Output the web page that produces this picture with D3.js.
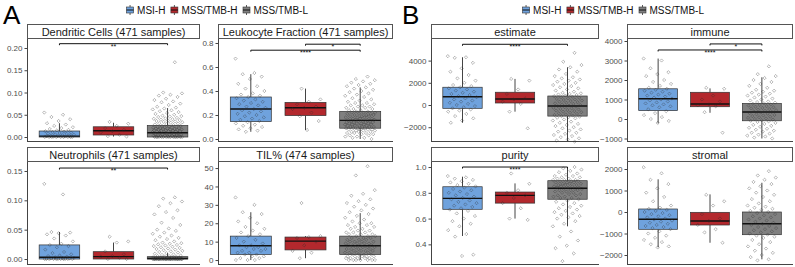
<!DOCTYPE html>
<html>
<head>
<meta charset="utf-8">
<script src="https://cdn.jsdelivr.net/npm/d3@7"></script>
<style>
body { margin: 0; background: #fff; }
text { font-family: "Liberation Sans", Arial, sans-serif; }
</style>
</head>
<body>
<script>
var W = 795, H = 267;

var groups = ["MSI-H", "MSS/TMB-H", "MSS/TMB-L"];
var groupColors = ["#6fa2dd", "#b3282d", "#808080"];

// box stats per group: [low whisker, q1, median, q3, high whisker]
// ---- panel A
var dcTitle = "Dendritic Cells (471 samples)";
var dcDomain = [-0.0112, 0.2202];
var dcTicks = [0, 0.05, 0.10, 0.15, 0.20];
var dcBox = [[0, 0, 0.002, 0.0135, 0.031], [0.001, 0.0045, 0.014, 0.023, 0.032], [0, 0, 0.0097, 0.026, 0.065]];
var dcPts = [
  [0.055, 0.05, 0.045, 0.04, 0.036, 0.031, 0.028, 0.025, 0.022, 0.02, 0.018, 0.016, 0.015, 0.013, 0.012, 0.011, 0.01, 0.009, 0.008, 0.007, 0.006, 0.005, 0.004, 0.003, 0.003, 0.002, 0.002, 0.001, 0.001, 0, 0, 0, 0, 0, 0, 0, 0, 0],
  [0.034, 0.03, 0.025, 0.02, 0.016, 0.013, 0.01, 0.005, 0.002, 0.001],
  [0.168, 0.100, 0.098, 0.095, 0.093, 0.090, 0.086, 0.083, 0.080, 0.078, 0.075, 0.072, 0.068, 0.066, 0.064, 0.062, 0.06, 0.058, 0.056, 0.054, 0.052, 0.05, 0.048, 0.047, 0.046, 0.045, 0.043, 0.042, 0.041, 0.04, 0.039, 0.038, 0.037, 0.036, 0.035, 0.034, 0.033, 0.032, 0.031, 0.03, 0.029, 0.028, 0.027, 0.025, 0.025, 0.024, 0.023, 0.023, 0.022, 0.021, 0.021, 0.02, 0.02, 0.019, 0.019, 0.018, 0.018, 0.017, 0.017, 0.016, 0.016, 0.015, 0.015, 0.014, 0.014, 0.013, 0.013, 0.012, 0.012, 0.011, 0.011, 0.01, 0.01, 0.009, 0.008, 0.007, 0.006, 0.006, 0.005, 0.005, 0.004, 0.004, 0.003, 0.003, 0.002, 0.002, 0.001, 0.001, 0, 0, 0, 0, 0, 0, 0, 0, 0, 0, 0, 0, 0, 0, 0]
];
var dcSig = [["**", 0, 2, 0.2097]];

var lfTitle = "Leukocyte Fraction (471 samples)";
var lfDomain = [-0.025, 0.8333];
var lfTicks = [0, 0.2, 0.4, 0.6, 0.8];
var lfBox = [[0.06, 0.145, 0.25, 0.35, 0.54], [0.075, 0.195, 0.26, 0.305, 0.42], [0, 0.09, 0.155, 0.23, 0.43]];
var lfPts = [
  [0.67, 0.55, 0.54, 0.52, 0.5, 0.46, 0.44, 0.42, 0.4, 0.38, 0.37, 0.36, 0.35, 0.34, 0.33, 0.32, 0.31, 0.3, 0.29, 0.28, 0.27, 0.26, 0.25, 0.24, 0.23, 0.22, 0.21, 0.2, 0.19, 0.18, 0.17, 0.16, 0.15, 0.14, 0.13, 0.12, 0.11, 0.1, 0.09, 0.08, 0.07, 0.06],
  [0.42, 0.33, 0.31, 0.29, 0.27, 0.26, 0.25, 0.22, 0.19, 0.15, 0.075],
  [0.52, 0.5, 0.49, 0.48, 0.47, 0.46, 0.45, 0.44, 0.43, 0.42, 0.41, 0.4, 0.39, 0.38, 0.37, 0.36, 0.35, 0.34, 0.33, 0.32, 0.31, 0.3, 0.3, 0.29, 0.28, 0.28, 0.27, 0.27, 0.26, 0.26, 0.25, 0.25, 0.24, 0.24, 0.23, 0.23, 0.22, 0.22, 0.22, 0.21, 0.21, 0.21, 0.2, 0.2, 0.2, 0.19, 0.19, 0.19, 0.18, 0.18, 0.18, 0.17, 0.17, 0.17, 0.16, 0.16, 0.16, 0.16, 0.15, 0.15, 0.15, 0.15, 0.14, 0.14, 0.14, 0.14, 0.13, 0.13, 0.13, 0.13, 0.12, 0.12, 0.12, 0.12, 0.11, 0.11, 0.11, 0.11, 0.1, 0.1, 0.1, 0.1, 0.09, 0.09, 0.09, 0.09, 0.08, 0.08, 0.08, 0.08, 0.07, 0.07, 0.07, 0.06, 0.06, 0.06, 0.05, 0.05, 0.05, 0.04, 0.04, 0.03, 0.03, 0.02, 0.02, 0.01, 0.01, 0]
];
var lfSig = [["*", 1, 2, 0.79], ["****", 0, 2, 0.74]];

var neTitle = "Neutrophils (471 samples)";
var neDomain = [-0.0102, 0.1653];
var neTicks = [0, 0.05, 0.10, 0.15];
var neBox = [[0, 0, 0.003, 0.024, 0.046], [0, 0, 0.004, 0.0125, 0.028], [0, 0, 0.001, 0.004, 0.01]];
var nePts = [
  [0.128, 0.11, 0.046, 0.045, 0.044, 0.042, 0.04, 0.035, 0.03, 0.026, 0.024, 0.022, 0.02, 0.016, 0.012, 0.01, 0.008, 0.006, 0.005, 0.004, 0.003, 0.002, 0.002, 0.001, 0.001, 0, 0, 0, 0, 0, 0, 0, 0, 0, 0, 0],
  [0.038, 0.03, 0.028, 0.013, 0.008, 0.005, 0.004, 0.002, 0, 0],
  [0.105, 0.103, 0.098, 0.095, 0.09, 0.083, 0.08, 0.076, 0.07, 0.062, 0.058, 0.052, 0.05, 0.048, 0.045, 0.043, 0.04, 0.038, 0.036, 0.034, 0.032, 0.03, 0.028, 0.027, 0.026, 0.025, 0.024, 0.023, 0.022, 0.021, 0.02, 0.019, 0.018, 0.017, 0.016, 0.015, 0.014, 0.013, 0.012, 0.011, 0.01, 0.009, 0.008, 0.007, 0.006, 0.005, 0.005, 0.004, 0.004, 0.003, 0.003, 0.002, 0.002, 0.002, 0.001, 0.001, 0.001, 0, 0, 0, 0, 0, 0, 0, 0, 0, 0, 0, 0, 0, 0, 0, 0, 0, 0, 0, 0, 0, 0, 0, 0, 0, 0, 0, 0, 0, 0, 0, 0, 0, 0, 0, 0, 0, 0, 0, 0]
];
var neSig = [["**", 0, 2, 0.155]];

var tilTitle = "TIL% (474 samples)";
var tilDomain = [-2.7, 53.3];
var tilTicks = [0, 10, 20, 30, 40, 50];
var tilBox = [[0, 3, 7.8, 13, 26], [1, 5.5, 10.3, 12.5, 13], [0, 3, 7.8, 13, 25.5]];
var tilPts = [
  [34, 30, 26, 25, 23, 21, 20, 18, 17, 16, 15, 14, 13, 12, 11, 10, 9, 8, 8, 7, 7, 6, 6, 5, 5, 4, 4, 3, 3, 2, 2, 1, 1, 0, 0, 0],
  [31, 13, 12.5, 12, 10, 8, 5, 4, 1],
  [51, 46, 38, 36, 35, 33, 32, 31, 30, 29, 28, 27, 26, 25, 24, 23, 22, 21, 20, 20, 19, 19, 18, 18, 17, 17, 16, 16, 15, 15, 15, 14, 14, 14, 13, 13, 13, 12, 12, 12, 11, 11, 11, 10, 10, 10, 10, 9, 9, 9, 9, 8, 8, 8, 8, 7, 7, 7, 7, 6, 6, 6, 6, 5, 5, 5, 5, 4, 4, 4, 4, 3, 3, 3, 3, 2, 2, 2, 2, 2, 1, 1, 1, 1, 1, 0, 0, 0, 0, 0, 0, 0]
];
var tilSig = [];

// ---- panel B
var estTitle = "estimate";
var estDomain = [-3333, 5946];
var estTicks = [-2000, 0, 2000, 4000];
var estBox = [[-1600, -300, 750, 1600, 4300], [-600, 180, 540, 1150, 2350], [-3300, -1000, -90, 810, 3400]];
var estPts = [
  [4400, 4300, 4250, 3800, 3300, 3000, 2700, 2400, 2200, 2000, 1800, 1700, 1600, 1500, 1400, 1300, 1200, 1100, 1000, 900, 800, 700, 600, 500, 400, 300, 200, 100, 0, -100, -200, -300, -400, -500, -600, -800, -1000, -1200, -1400, -1600],
  [2350, 2200, 1400, 1000, 600, 500, 300, 100, -600, -2100],
  [4700, 3900, 3600, 3400, 3200, 3000, 2800, 2600, 2500, 2400, 2300, 2200, 2100, 2000, 1900, 1800, 1700, 1600, 1500, 1400, 1300, 1200, 1100, 1050, 1000, 950, 900, 850, 800, 750, 700, 650, 600, 550, 500, 450, 400, 350, 300, 250, 200, 150, 100, 50, 0, -50, -100, -150, -200, -250, -300, -350, -400, -450, -500, -550, -600, -650, -700, -750, -800, -850, -900, -950, -1000, -1050, -1100, -1150, -1200, -1300, -1400, -1500, -1600, -1700, -1800, -1900, -2000, -2100, -2200, -2300, -2400, -2500, -2600, -2700, -2800, -2900, -3000, -3100, -3200, -3300]
];
var estSig = [["****", 0, 2, 5470]];

var immTitle = "immune";
var immDomain = [-1179, 4103];
var immTicks = [-1000, 0, 1000, 2000, 3000, 4000];
var immBox = [[-220, 430, 1040, 1550, 3100], [320, 630, 770, 1370, 1570], [-1000, -90, 360, 800, 2140]];
var immPts = [
  [3100, 3000, 2600, 2400, 2300, 2200, 2000, 1900, 1800, 1700, 1600, 1550, 1500, 1450, 1400, 1350, 1300, 1250, 1200, 1150, 1100, 1050, 1000, 950, 900, 850, 800, 750, 700, 650, 600, 500, 400, 300, 200, 100, 0, -100, -200],
  [1600, 1550, 1200, 1000, 900, 750, 700, 650, 350, -700],
  [2700, 2300, 2200, 2100, 2000, 1900, 1800, 1700, 1600, 1500, 1450, 1400, 1350, 1300, 1250, 1200, 1150, 1100, 1050, 1000, 950, 900, 870, 840, 810, 780, 750, 720, 690, 660, 630, 600, 570, 540, 510, 480, 450, 420, 390, 360, 330, 300, 270, 240, 210, 180, 150, 120, 90, 60, 30, 0, -30, -60, -90, -120, -150, -200, -250, -300, -350, -400, -450, -500, -550, -600, -650, -700, -750, -800, -850, -900, -950, -1000]
];
var immSig = [["*", 1, 2, 3850], ["****", 0, 2, 3540]];

var purTitle = "purity";
var purDomain = [0.24, 1.039];
var purTicks = [0.4, 0.6, 0.8, 1.0];
var purBox = [[0.465, 0.672, 0.757, 0.847, 0.925], [0.6, 0.72, 0.78, 0.806, 0.873], [0.54, 0.75, 0.835, 0.894, 1.0]];
var purPts = [
  [0.93, 0.92, 0.91, 0.9, 0.89, 0.88, 0.87, 0.86, 0.85, 0.84, 0.83, 0.82, 0.81, 0.8, 0.79, 0.78, 0.77, 0.76, 0.75, 0.74, 0.73, 0.72, 0.71, 0.7, 0.69, 0.68, 0.67, 0.66, 0.64, 0.62, 0.6, 0.58, 0.56, 0.54, 0.51, 0.48, 0.46, 0.32, 0.31],
  [0.95, 0.87, 0.82, 0.8, 0.78, 0.76, 0.72, 0.68, 0.6, 0.59],
  [1.0, 0.99, 0.98, 0.97, 0.96, 0.95, 0.94, 0.93, 0.93, 0.92, 0.92, 0.91, 0.91, 0.9, 0.9, 0.9, 0.89, 0.89, 0.89, 0.88, 0.88, 0.88, 0.87, 0.87, 0.87, 0.86, 0.86, 0.86, 0.85, 0.85, 0.85, 0.84, 0.84, 0.84, 0.83, 0.83, 0.83, 0.82, 0.82, 0.82, 0.81, 0.81, 0.8, 0.8, 0.79, 0.79, 0.78, 0.78, 0.77, 0.77, 0.76, 0.76, 0.75, 0.74, 0.73, 0.72, 0.71, 0.7, 0.69, 0.68, 0.67, 0.66, 0.65, 0.64, 0.63, 0.62, 0.61, 0.6, 0.58, 0.56, 0.54, 0.5, 0.46, 0.43, 0.39, 0.37, 0.33, 0.27]
];
var purSig = [["****", 0, 2, 1.0]];

var strTitle = "stromal";
var strDomain = [-2465, 2326];
var strTicks = [-2000, -1000, 0, 1000, 2000];
var strBox = [[-1640, -805, -340, 140, 1520], [-1430, -605, -420, -15, 820], [-2200, -1055, -545, 0, 1360]];
var strPts = [
  [2080, 1800, 1500, 1300, 1100, 900, 700, 500, 300, 200, 150, 100, 50, 0, -50, -100, -150, -200, -250, -300, -350, -400, -450, -500, -550, -600, -650, -700, -750, -800, -900, -1000, -1100, -1200, -1300, -1400, -1500, -1600, -1650],
  [800, 500, 300, -100, -300, -420, -600, -800, -950, -1430],
  [1900, 1700, 1600, 1500, 1400, 1300, 1200, 1100, 1000, 900, 800, 700, 600, 500, 400, 300, 250, 200, 150, 100, 50, 0, -50, -100, -150, -200, -250, -300, -350, -400, -450, -500, -550, -600, -650, -700, -750, -800, -850, -900, -950, -1000, -1050, -1100, -1150, -1200, -1300, -1400, -1500, -1600, -1700, -1800, -1900, -2000, -2100, -2200, -2250]
];
var strSig = [];

// facet layout: [x0, x1] columns and [stripTop, plotTop, plotBottom] rows
var colsA = [[27, 200], [218, 393]];
var colsB = [[431, 599], [627, 793]];
var rows = [[24, 39, 142], [147, 162, 265]];

var facets = [
  {title: dcTitle, dom: dcDomain, ticks: dcTicks, fmt: ".2f", box: dcBox, pts: dcPts, sig: dcSig, col: colsA[0], row: rows[0]},
  {title: lfTitle, dom: lfDomain, ticks: lfTicks, fmt: ".1f", box: lfBox, pts: lfPts, sig: lfSig, col: colsA[1], row: rows[0]},
  {title: neTitle, dom: neDomain, ticks: neTicks, fmt: ".2f", box: neBox, pts: nePts, sig: neSig, col: colsA[0], row: rows[1]},
  {title: tilTitle, dom: tilDomain, ticks: tilTicks, fmt: "d", box: tilBox, pts: tilPts, sig: tilSig, col: colsA[1], row: rows[1]},
  {title: estTitle, dom: estDomain, ticks: estTicks, fmt: "d", box: estBox, pts: estPts, sig: estSig, col: colsB[0], row: rows[0]},
  {title: immTitle, dom: immDomain, ticks: immTicks, fmt: "d", box: immBox, pts: immPts, sig: immSig, col: colsB[1], row: rows[0]},
  {title: purTitle, dom: purDomain, ticks: purTicks, fmt: ".1f", box: purBox, pts: purPts, sig: purSig, col: colsB[0], row: rows[1]},
  {title: strTitle, dom: strDomain, ticks: strTicks, fmt: "d", box: strBox, pts: strPts, sig: strSig, col: colsB[1], row: rows[1]}
];

var svg = d3.select("body").append("svg")
    .attr("width", W)
    .attr("height", H);

// panel letters
svg.append("text").attr("x", 3).attr("y", 24).attr("font-size", 26).text("A");
svg.append("text").attr("x", 402).attr("y", 24).attr("font-size", 26).text("B");

// legends
var drawLegend = function(cx) {
    var g = svg.append("g");
    var x = 0;
    groups.forEach(function(name, i) {
	var item = g.append("g").attr("transform", "translate(" + x + ",0)");
	item.append("line").attr("x1", 4).attr("x2", 4).attr("y1", 5).attr("y2", 15)
	    .attr("stroke", "#333").attr("stroke-width", 0.8);
	item.append("rect").attr("x", 0.5).attr("y", 7).attr("width", 7).attr("height", 6)
	    .attr("fill", groupColors[i]).attr("stroke", "#333").attr("stroke-width", 0.6);
	item.append("line").attr("x1", 0.5).attr("x2", 7.5).attr("y1", 10).attr("y2", 10)
	    .attr("stroke", "#111").attr("stroke-width", 1);
	var t = item.append("text").attr("x", 11).attr("y", 13.5).attr("font-size", 10)
	    .attr("fill", "#111").text(name);
	x += 11 + t.node().getComputedTextLength() + 5;
    });
    g.attr("transform", "translate(" + (cx - (x - 5) / 2) + ",0)");
}
drawLegend(217);
drawLegend(613);

var draw_facet = function(f) {
    var x0 = f.col[0], x1 = f.col[1];
    var sTop = f.row[0], pTop = f.row[1], pBot = f.row[2];

    var x = d3.scalePoint().domain(groups).range([x0, x1]).padding(0.6);
    var step = x.step();
    var y = d3.scaleLinear().domain(f.dom).range([pBot, pTop]);

    var g = svg.append("g");

    // strip
    g.append("rect").attr("x", x0 + 0.5).attr("y", sTop + 0.5)
	.attr("width", x1 - x0 - 1).attr("height", pTop - sTop - 1)
	.attr("fill", "#fff").attr("stroke", "#555").attr("stroke-width", 1);
    g.append("text").attr("x", (x0 + x1) / 2).attr("y", pTop - 3.5)
	.attr("text-anchor", "middle").attr("font-size", 11).attr("fill", "#1a1a1a")
	.text(f.title);

    // y axis
    var ax = g.append("g").attr("transform", "translate(" + x0 + ",0)")
	.call(d3.axisLeft(y).tickValues(f.ticks).tickSize(2.5).tickPadding(2)
	      .tickFormat(d3.format(f.fmt)));
    ax.select(".domain").attr("stroke", "#444").attr("d", "M0.5," + pTop + "V" + pBot);
    ax.selectAll(".tick line").attr("stroke", "#444");
    ax.selectAll(".tick text").attr("font-size", 8).attr("fill", "#4d4d4d")
	.attr("font-family", "Liberation Sans, Arial, sans-serif");

    // bottom line
    g.append("line").attr("x1", x0).attr("x2", x1).attr("y1", pBot - 0.5).attr("y2", pBot - 0.5)
	.attr("stroke", "#444").attr("stroke-width", 1);

    var bw = step * 0.75;

    // boxes
    f.box.forEach(function(b, i) {
	var cx = x(groups[i]);
	g.append("line").attr("x1", cx).attr("x2", cx).attr("y1", y(b[3])).attr("y2", y(b[4]))
	    .attr("stroke", "#444").attr("stroke-width", 1);
	g.append("line").attr("x1", cx).attr("x2", cx).attr("y1", y(b[1])).attr("y2", y(b[0]))
	    .attr("stroke", "#444").attr("stroke-width", 1);
	g.append("rect").attr("x", cx - bw / 2).attr("y", y(b[3]))
	    .attr("width", bw).attr("height", Math.max(0.5, y(b[1]) - y(b[3])))
	    .attr("fill", groupColors[i]).attr("stroke", "#333").attr("stroke-width", 0.7);
	g.append("line").attr("x1", cx - bw / 2).attr("x2", cx + bw / 2)
	    .attr("y1", y(b[2])).attr("y2", y(b[2]))
	    .attr("stroke", "#111").attr("stroke-width", 1.4);
    });

    // jittered points (open diamonds)
    var jit = step * 0.28;
    f.pts.forEach(function(vals, i) {
	var cx = x(groups[i]);
	g.append("g").selectAll("path").data(vals).enter().append("path")
	    .attr("d", "M0,-1.6L1.6,0L0,1.6L-1.6,0Z")
	    .attr("transform", function(d, k) {
		var off = ((k * 0.6180339887 + i * 0.37) % 1) * 2 - 1;
		return "translate(" + (cx + off * jit) + "," + y(d) + ")";
	    })
	    .attr("fill", "none").attr("stroke", "#2a2a2a")
	    .attr("stroke-opacity", 0.55).attr("stroke-width", 0.6);
    });

    // significance brackets
    f.sig.forEach(function(s) {
	var xa = x(groups[s[1]]), xb = x(groups[s[2]]), yy = y(s[3]);
	g.append("path")
	    .attr("d", "M" + xa + "," + (yy + 1.5) + "V" + yy + "H" + xb + "V" + (yy + 1.5))
	    .attr("fill", "none").attr("stroke", "#111").attr("stroke-width", 1);
	g.append("text").attr("x", (xa + xb) / 2).attr("y", yy + 5)
	    .attr("text-anchor", "middle").attr("font-size", 7).attr("fill", "#111")
	    .text(s[0]);
    });
}

facets.forEach(draw_facet);
</script>
</body>
</html>
